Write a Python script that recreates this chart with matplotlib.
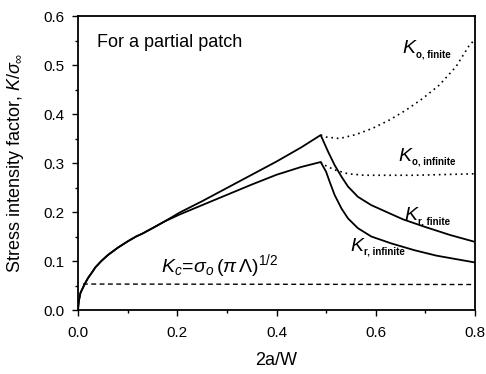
import numpy as np
import matplotlib
matplotlib.use("Agg")
import matplotlib.pyplot as plt
from matplotlib.ticker import MultipleLocator

plt.rcParams['font.family'] = ['Liberation Sans', 'DejaVu Sans']
plt.rcParams['mathtext.fontset'] = 'custom'
plt.rcParams['mathtext.rm'] = 'Liberation Sans'
plt.rcParams['mathtext.it'] = 'Liberation Sans:italic'
plt.rcParams['mathtext.bf'] = 'Liberation Sans:bold'

# rising part (both curves coincide at small crack length)
x_rise = [0, 0.001, 0.002, 0.005, 0.0135, 0.02, 0.027, 0.035, 0.047, 0.06, 0.08, 0.1, 0.117, 0.13, 0.15, 0.175]
y_rise = [0, 0.012, 0.02, 0.035, 0.053, 0.065, 0.075, 0.087, 0.1, 0.112, 0.127, 0.14, 0.15, 0.156, 0.167, 0.181]

# K_r finite
x_rf = [0.205, 0.25, 0.30, 0.35, 0.40, 0.45, 0.489, 0.504, 0.517, 0.531, 0.544, 0.564, 0.591,
        0.624, 0.655, 0.698, 0.75, 0.8]
y_rf = [0.199, 0.222, 0.249, 0.276, 0.303, 0.332, 0.357, 0.323, 0.296, 0.272, 0.252, 0.231, 0.214,
        0.199, 0.185, 0.170, 0.153, 0.139]

# K_r infinite
x_ri = [0.205, 0.25, 0.30, 0.35, 0.40, 0.45, 0.489, 0.500, 0.507, 0.517, 0.531, 0.544, 0.564,
        0.591, 0.631, 0.678, 0.722, 0.8]
y_ri = [0.195, 0.214, 0.235, 0.256, 0.276, 0.292, 0.302, 0.282, 0.262, 0.235, 0.207, 0.187, 0.167,
        0.150, 0.136, 0.122, 0.111, 0.097]

# K_o finite (dotted)
x_of = [0.489, 0.50, 0.527, 0.56, 0.594, 0.628, 0.661, 0.695, 0.728, 0.762, 0.789, 0.8]
y_of = [0.357, 0.353, 0.350, 0.358, 0.371, 0.388, 0.408, 0.432, 0.459, 0.497, 0.541, 0.552]

# K_o infinite (dotted)
x_oi = [0.489, 0.494, 0.517, 0.544, 0.577, 0.678, 0.8]
y_oi = [0.302, 0.297, 0.286, 0.278, 0.275, 0.275, 0.278]

# K_c (dashed)
x_kc = [0.01, 0.8]
y_kc = [0.053, 0.052]

fig = plt.figure(figsize=(4.86, 3.74), dpi=100)
ax = fig.add_axes([0.1605, 0.1711, 0.8169, 0.7861])

ax.plot(x_rise + x_rf, y_rise + y_rf, color='black', lw=1.3)
ax.plot(x_rise + x_ri, y_rise + y_ri, color='black', lw=1.3)
ax.plot(x_of, y_of, color='black', lw=1.2, linestyle=(0, (1, 2.3)))
ax.plot(x_oi, y_oi, color='black', lw=1.2, linestyle=(0, (1, 2.3)))
ax.plot(x_kc, y_kc, color='black', lw=1.0, linestyle=(0, (3.5, 2.5)))

ax.set_xlim(0, 0.8)
ax.set_ylim(0, 0.6)
ax.xaxis.set_major_locator(MultipleLocator(0.2))
ax.xaxis.set_minor_locator(MultipleLocator(0.1))
ax.yaxis.set_major_locator(MultipleLocator(0.1))
ax.yaxis.set_minor_locator(MultipleLocator(0.05))
ax.xaxis.set_major_formatter(plt.FormatStrFormatter('%.1f'))
ax.yaxis.set_major_formatter(plt.FormatStrFormatter('%.1f'))
ax.tick_params(which='both', direction='out', top=False, right=False, width=1.0)
ax.tick_params(which='major', length=4.5, labelsize=11)
ax.tick_params(which='minor', length=2.5)
ax.tick_params(axis='x', which='major', pad=7)
ax.tick_params(axis='y', which='major', pad=5)
for s in ax.spines.values():
    s.set_linewidth(1.3)

ax.set_xlabel('2a/W', fontsize=13, labelpad=9)
ax.set_ylabel(r'Stress intensity factor, $K/\sigma_{\infty}$', fontsize=13, labelpad=13)

ax.text(0.038, 0.545, 'For a partial patch', fontsize=13, va='center', ha='left')


def klabel(x, y, sub):
    ax.text(x, y, 'K', fontsize=14, style='italic', va='baseline', ha='left')
    ax.annotate(sub, (x, y), xytext=(10, -3), textcoords='offset points',
                fontsize=7, fontweight='bold', va='baseline', ha='left')


klabel(0.653, 0.524, 'o, finite')
klabel(0.645, 0.305, 'o, infinite')
klabel(0.658, 0.184, 'r, finite')
klabel(0.549, 0.121, 'r, infinite')

ax.text(0.168, 0.078, r'$K_{c}\!=\!\sigma_{o}\,(\pi\,\Lambda)^{1/2}$', fontsize=14, va='baseline', ha='left')

fig.savefig('out.png', dpi=100)
